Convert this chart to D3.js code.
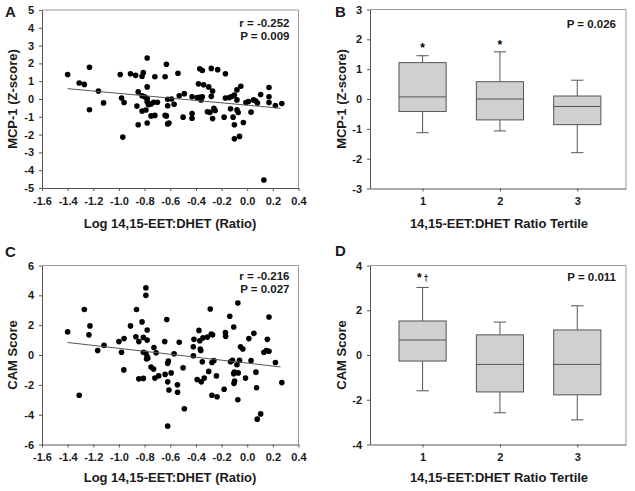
<!DOCTYPE html>
<html>
<head>
<meta charset="utf-8">
<script src="https://cdn.jsdelivr.net/npm/d3@7"></script>
<style>
  html, body { margin: 0; padding: 0; background: #fff; }
  text { font-family: "Liberation Sans", Arial, sans-serif; font-weight: bold; }
</style>
</head>
<body>
<script>
// ---------- DATA ----------
// Panel A: MCP-1 z-score vs log 14,15-EET:DHET ratio
const mcpLogRatio = [-1.40,-1.31,-1.27,-1.23,-1.23,-1.16,-1.12,-0.99,-0.98,-0.96,-0.97,-0.91,-0.87,-0.82,-0.81,-0.86,-0.85,-0.85,
  -0.82,-0.80,-0.82,-0.79,-0.78,-0.78,-0.78,-0.78,-0.77,-0.78,-0.75,-0.75,-0.72,-0.73,-0.72,-0.70,
  -0.64,-0.64,-0.63,-0.62,-0.62,-0.63,-0.62,-0.61,-0.59,-0.57,-0.54,-0.53,-0.50,-0.49,
  -0.43,-0.43,-0.43,-0.39,-0.38,-0.37,-0.35,-0.37,-0.36,-0.35,-0.34,
  -0.31,-0.29,-0.30,-0.28,-0.27,-0.28,-0.26,-0.27,-0.25,-0.23,
  -0.18,-0.17,-0.17,-0.14,-0.13,-0.12,-0.11,-0.10,-0.10,-0.10,
  -0.08,-0.05,-0.08,-0.08,-0.07,-0.06,-0.03,-0.01,0.01,0.03,0.05,0.065,0.08,0.105,0.13,0.17,0.17,0.17,0.22,0.27];
const mcpZ = [1.38,0.90,0.82,1.78,-0.60,0.45,-0.22,1.38,0.05,-0.20,-2.14,1.42,1.33,1.28,1.48,-0.40,0.40,-1.45,
  0.18,0.12,-0.68,-0.62,2.30,0.68,0.02,-0.15,-0.32,-1.35,-0.28,-0.95,1.25,-0.18,-0.92,-0.18,
  1.25,-0.92,1.95,-0.02,-0.38,-0.95,-1.40,-1.35,0.00,-0.30,1.45,0.18,-1.02,0.30,
  0.12,-0.82,-1.08,0.08,0.85,1.70,1.60,0.10,-0.05,0.12,0.80,
  -0.72,-0.75,0.68,1.72,0.45,0.15,-0.52,-1.10,-0.65,1.65,
  -1.02,1.42,0.05,0.08,-0.55,0.14,-1.02,0.22,-1.45,-2.24,
  0.51,0.72,-0.05,-0.61,-0.76,-2.10,-1.32,-0.20,-0.14,-0.74,-0.05,-0.10,-0.23,0.25,-4.55,0.65,0.12,-0.20,-0.37,-0.25];
const mcpFitX = [-1.40, 0.26];
const mcpFitY = [0.58, -0.52];

// Panel C: CAM score vs log 14,15-EET:DHET ratio
const camLogRatio = [-1.40,-1.31,-1.27,-1.226,-1.234,-1.166,-1.116,-1.00,-0.98,-0.962,-0.96,-0.91,-0.863,-0.868,-0.845,-0.845,
  -0.82,-0.81,-0.81,-0.81,-0.79,-0.79,-0.79,-0.78,-0.78,-0.78,-0.775,-0.785,-0.75,-0.73,-0.727,-0.71,-0.72,-0.69,
  -0.643,-0.64,-0.627,-0.62,-0.615,-0.62,-0.61,-0.62,-0.593,-0.57,-0.544,-0.543,-0.53,-0.50,-0.49,
  -0.42,-0.415,-0.42,-0.39,-0.376,-0.37,-0.366,-0.362,-0.358,-0.35,-0.345,-0.335,-0.31,-0.30,-0.288,-0.28,-0.27,-0.275,-0.26,-0.275,
  -0.24,-0.235,-0.18,-0.17,-0.168,-0.136,-0.13,-0.115,-0.105,-0.105,-0.10,-0.103,-0.098,-0.08,-0.073,-0.07,-0.073,-0.06,-0.052,-0.034,
  -0.013,0.013,0.03,0.052,0.068,0.073,0.078,0.105,0.13,0.15,0.157,0.17,0.17,0.22,0.27];
const camScore = [1.55,-2.70,3.05,1.95,1.35,0.30,0.65,0.90,0.18,-1.00,1.10,1.95,3.05,1.22,0.90,-1.60,
  2.22,1.18,-1.57,0.18,0.11,4.50,4.00,1.68,1.00,-0.11,-0.22,-0.27,-0.80,-0.94,0.50,0.15,-1.55,-1.40,
  0.90,-1.30,2.38,-0.56,-0.40,-1.80,-2.35,-4.77,-1.20,0.08,-2.00,-2.50,0.85,-0.85,-3.60,
  0.55,1.05,-0.05,-1.65,1.65,0.95,0.40,0.30,-1.80,-0.45,1.15,-1.55,1.20,-1.10,3.08,1.40,1.35,-0.50,-0.38,-2.70,
  -1.40,-2.80,-2.30,1.50,1.25,2.60,-0.45,-0.35,1.88,-1.25,-1.15,-1.90,-1.75,-0.65,3.48,-1.20,-3.00,-0.35,0.55,0.40,
  -1.55,1.10,-0.38,1.45,-1.15,-2.20,-4.30,-3.95,0.18,0.30,1.05,2.55,0.25,-0.50,-1.85];
const camFitX = [-1.40, 0.26];
const camFitY = [0.84, -0.80];

const scatterXTicks = [-1.6,-1.4,-1.2,-1.0,-0.8,-0.6,-0.4,-0.2,0.0,0.2,0.4];
const scatterXLabels = ["-1.6","-1.4","-1.2","-1.0","-0.8","-0.6","-0.4","-0.2","0.0","0.2","0.4"];
const mcpYTicks = [-5,-4,-3,-2,-1,0,1,2,3,4,5];
const camYTicks = [-6,-4,-2,0,2,4,6];

// Panels B & D: box plots by tertile
const tertiles = [1, 2, 3];
const mcpWhiskerLow  = [-1.13, -1.07, -1.80];
const mcpQ1          = [-0.42, -0.70, -0.86];
const mcpMedian      = [0.07, 0.00, -0.25];
const mcpQ3          = [1.22, 0.58, 0.10];
const mcpWhiskerHigh = [1.45, 1.58, 0.63];
const mcpMarks       = ["*", "*", ""];
const mcpBoxYTicks = [-3,-2,-1,0,1,2,3];

const camWhiskerLow  = [-1.60, -2.58, -2.90];
const camQ1          = [-0.27, -1.65, -1.78];
const camMedian      = [0.67, -0.42, -0.42];
const camQ3          = [1.52, 0.90, 1.12];
const camWhiskerHigh = [3.02, 1.47, 2.20];
const camMarks       = ["*†", "", ""];
const camBoxYTicks = [-4,-2,0,2,4];

// ---------- DRAWING ----------
const svg = d3.select("body").append("svg").attr("width", 635).attr("height", 491);
const TXT = "#1a1a1a";

function styleAxis(g) {
  g.attr("font-family", null).attr("font-size", null);
  g.select(".domain").attr("stroke", "#555");
  g.selectAll(".tick line").attr("stroke", "#555");
  g.selectAll(".tick text").attr("fill", TXT).attr("font-size", 11)
    .attr("font-family", "Liberation Sans, Arial, sans-serif").attr("font-weight", "bold");
}

function frame(x, y) {
  const [x0, x1] = x.range(), [y0, y1] = y.range();
  svg.append("path")
    .attr("d", `M${x0},${y1}H${x1}V${y0}`)
    .attr("fill", "none").attr("stroke", "#9a9a9a").attr("stroke-width", 1);
}

function axes(x, y, xt, xl, yt) {
  const [x0] = x.range(), [y0] = y.range();
  const ax = d3.axisBottom(x).tickSize(3).tickSizeOuter(0).tickPadding(6);
  if (xt) ax.tickValues(xt);
  if (xl) ax.tickFormat((d, i) => xl[i]);
  svg.append("g").attr("transform", `translate(0,${y0})`).call(ax).call(styleAxis);
  const ay = d3.axisLeft(y).tickValues(yt).tickFormat(d => String(d)).tickSize(3).tickSizeOuter(0).tickPadding(5);
  svg.append("g").attr("transform", `translate(${x0},0)`).call(ay).call(styleAxis);
}

function label(txt, x, y, size, anchor, rotate) {
  const t = svg.append("text").text(txt).attr("fill", TXT).attr("font-size", size)
    .attr("text-anchor", anchor || "start");
  if (rotate) t.attr("transform", `translate(${x},${y}) rotate(-90)`);
  else t.attr("x", x).attr("y", y);
  return t;
}

function markLabel(txt, x, y) {
  const t = svg.append("text").attr("x", x).attr("y", y).attr("text-anchor", "middle")
    .attr("fill", "#000").attr("font-size", 12);
  Array.from(txt).forEach(ch => {
    const s = t.append("tspan").text(ch).attr("fill", "#000");
    if (ch === "†") s.attr("font-size", 9).attr("dx", 2).attr("dy", -1.5)
      .attr("font-family", "DejaVu Sans, sans-serif").attr("font-weight", "normal");
  });
}

function scatterPanel(xs, ys, fitX, fitY, yDomain, yRange, yTicks, letter, letterY, yTitle, yTitleY, xTitleY, rText, pText, statY) {
  const x = d3.scaleLinear().domain([-1.6, 0.4]).range([42, 298.5]);
  const y = d3.scaleLinear().domain(yDomain).range(yRange);
  frame(x, y);
  axes(x, y, scatterXTicks, scatterXLabels, yTicks);
  const pts = xs.map((v, i) => [v, ys[i]]);
  svg.append("g").selectAll("circle").data(pts).join("circle")
    .attr("cx", d => x(d[0])).attr("cy", d => y(d[1])).attr("r", 2.8).attr("fill", "#000");
  svg.append("line")
    .attr("x1", x(fitX[0])).attr("y1", y(fitY[0])).attr("x2", x(fitX[1])).attr("y2", y(fitY[1]))
    .attr("stroke", "#555").attr("stroke-width", 1);
  label(letter, 5, letterY, 15, "start");
  label(yTitle, 17, yTitleY, 13, "middle", true);
  label("Log 14,15-EET:DHET (Ratio)", 170, xTitleY, 13, "middle");
  label(rText, 289.5, statY, 11.5, "end");
  label(pText, 289.5, statY + 12.8, 11.5, "end");
}

function boxPanel(lo, q1, med, q3, hi, marks, yDomain, yRange, yTicks, letter, letterY, yTitle, yTitleY, xTitleY, pText, pY, markYs) {
  const x = d3.scaleLinear().domain([0.32, 3.63]).range([370, 626]);
  const y = d3.scaleLinear().domain(yDomain).range(yRange);
  frame(x, y);
  axes(x, y, tertiles, tertiles.map(String), yTicks);
  const bw = 0.305, cw = 0.08;
  const data = tertiles.map((t, i) => ({ t, lo: lo[i], q1: q1[i], med: med[i], q3: q3[i], hi: hi[i], mark: marks[i], my: markYs[i] }));
  const g = svg.append("g").attr("stroke", "#555").attr("stroke-width", 1);
  data.forEach(d => {
    g.append("line").attr("x1", x(d.t)).attr("x2", x(d.t)).attr("y1", y(d.hi)).attr("y2", y(d.q3));
    g.append("line").attr("x1", x(d.t)).attr("x2", x(d.t)).attr("y1", y(d.q1)).attr("y2", y(d.lo));
    g.append("line").attr("x1", x(d.t - cw)).attr("x2", x(d.t + cw)).attr("y1", y(d.hi)).attr("y2", y(d.hi));
    g.append("line").attr("x1", x(d.t - cw)).attr("x2", x(d.t + cw)).attr("y1", y(d.lo)).attr("y2", y(d.lo));
    g.append("rect").attr("x", x(d.t - bw)).attr("width", x(d.t + bw) - x(d.t - bw))
      .attr("y", y(d.q3)).attr("height", y(d.q1) - y(d.q3)).attr("fill", "#d0d0d0");
    g.append("line").attr("x1", x(d.t - bw)).attr("x2", x(d.t + bw)).attr("y1", y(d.med)).attr("y2", y(d.med));
    if (d.mark) markLabel(d.mark, x(d.t), y(d.my));
  });
  label(letter, 335, letterY, 15, "start");
  label(yTitle, 346, yTitleY, 13, "middle", true);
  label("14,15-EET:DHET Ratio Tertile", 499, xTitleY, 13, "middle");
  label(pText, 616, pY, 11.5, "end");
}

scatterPanel(mcpLogRatio, mcpZ, mcpFitX, mcpFitY, [-5, 5], [188, 10], mcpYTicks,
  "A", 17, "MCP-1 (Z-score)", 99, 228, "r = -0.252", "P = 0.009", 27);
scatterPanel(camLogRatio, camScore, camFitX, camFitY, [-6, 6], [444.5, 265.5], camYTicks,
  "C", 257, "CAM Score", 355, 482, "r = -0.216", "P = 0.027", 280);
boxPanel(mcpWhiskerLow, mcpQ1, mcpMedian, mcpQ3, mcpWhiskerHigh, mcpMarks, [-3, 3], [188.5, 9.5], mcpBoxYTicks,
  "B", 17, "MCP-1 (Z-score)", 99, 228, "P = 0.026", 28, [1.58, 1.68, 0]);
boxPanel(camWhiskerLow, camQ1, camMedian, camQ3, camWhiskerHigh, camMarks, [-4, 4], [444.5, 265.5], camBoxYTicks,
  "D", 256, "CAM Score", 355, 482, "P = 0.011", 281, [3.25, 0, 0]);
</script>
</body>
</html>
